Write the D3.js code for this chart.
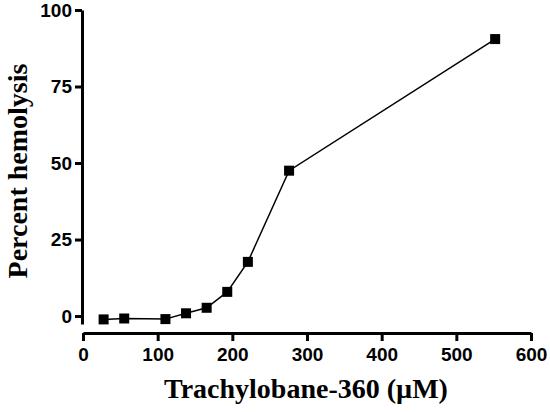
<!DOCTYPE html>
<html>
<head>
<meta charset="utf-8">
<title>Hemolysis</title>
<script src="https://cdn.jsdelivr.net/npm/d3@7"></script>
<style>
  body { margin: 0; background: #fff; }
  .tick text { font-family: "Liberation Sans", Arial, sans-serif; font-weight: bold; font-size: 19px; fill: #000; }
  .title { font-family: "Liberation Serif", "Times New Roman", serif; font-weight: bold; font-size: 28px; fill: #000; }
</style>
</head>
<body>
<svg id="chart" width="550" height="412"></svg>
<script>
// concentration (uM) and percent hemolysis
var conc = [27.6, 55.2, 110.4, 138, 165.6, 193.2, 220.8, 276, 552];
var hemolysis = [-1.1, -0.8, -1.0, 0.9, 2.7, 7.9, 17.7, 47.5, 90.5];
var xTicks = [0, 100, 200, 300, 400, 500, 600];
var yTicks = [0, 25, 50, 75, 100];

var svg = d3.select("#chart");

var x = d3.scaleLinear().domain([0, 600]).range([83, 531]);
var y = d3.scaleLinear().domain([-2.6, 100]).range([324, 10]);

// x axis, drawn below the y axis end like prism does
var gx = svg.append("g")
  .attr("transform", "translate(0,333)")
  .call(d3.axisBottom(x).tickValues(xTicks).tickSize(8).tickSizeOuter(0).tickPadding(7));

var gy = svg.append("g")
  .attr("transform", "translate(82,0)")
  .call(d3.axisLeft(y).tickValues(yTicks).tickSize(7).tickSizeOuter(0).tickPadding(3));

[gx, gy].forEach(function (g) {
  g.select(".domain").attr("stroke", "#000").attr("stroke-width", 3);
  g.selectAll(".tick line").attr("stroke", "#000").attr("stroke-width", 3);
});

var pts = conc.map(function (c, i) { return [c, hemolysis[i]]; });

var line = d3.line()
  .x(function (d) { return x(d[0]); })
  .y(function (d) { return y(d[1]); });

svg.append("path")
  .datum(pts)
  .attr("d", line)
  .attr("fill", "none")
  .attr("stroke", "#000")
  .attr("stroke-width", 1.5);

var sz = 10;
svg.selectAll(".pt")
  .data(pts)
  .enter().append("rect")
  .attr("class", "pt")
  .attr("x", function (d) { return x(d[0]) - sz / 2; })
  .attr("y", function (d) { return y(d[1]) - sz / 2; })
  .attr("width", sz)
  .attr("height", sz)
  .attr("fill", "#000");

svg.append("text")
  .attr("class", "title")
  .attr("x", 306)
  .attr("y", 398)
  .attr("text-anchor", "middle")
  .text("Trachylobane-360 (\u00b5M)");

svg.append("text")
  .attr("class", "title")
  .attr("transform", "translate(27,171) rotate(-90)")
  .attr("text-anchor", "middle")
  .text("Percent hemolysis");
</script>
</body>
</html>
